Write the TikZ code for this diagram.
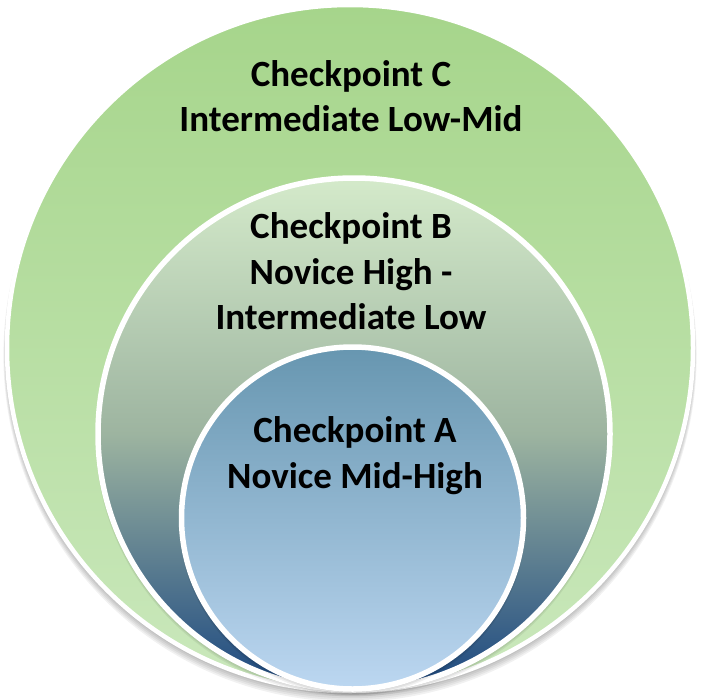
\documentclass[tikz,border=0pt]{standalone}
\usepackage{fontspec}
\setmainfont{Carlito}
\definecolor{outerTop}{HTML}{A6D58B}
\definecolor{outerBot}{HTML}{CAE8BC}
\definecolor{midTop}{HTML}{D4EACA}
\definecolor{midMid}{HTML}{9DB4A0}
\definecolor{midBot}{HTML}{1B4780}
\definecolor{innTop}{HTML}{6796B0}
\definecolor{innBot}{HTML}{BCD7F1}
\tikzset{
  ring/.style={draw=white, line width=5.5pt},
  lbl/.style={font=\bfseries\fontsize{37}{44}\selectfont, text=black, inner sep=0pt, anchor=base},
}
\begin{document}
\begin{tikzpicture}[x=1pt,y=-1pt]
\useasboundingbox (0,0) rectangle (701,699);
% shadow
\foreach \k in {1,...,6}{
  \fill[black, opacity=0.055] (350,{348+1.2*\k}) circle ({343+0.6*\k});
}
% outer circle
\shade[top color=outerTop, bottom color=outerBot] (350,348) circle (343);
\draw[ring, line width=4.5pt] (350,348) circle (343) coordinate (outer);
% middle circle shadow
\foreach \k in {1,...,4}{
  \fill[black, opacity=0.06] (354,{434+1.0*\k}) circle ({256+0.6*\k});
}
\shade[top color=midTop, bottom color=midBot, middle color=midMid] (354,434) circle (256);
\draw[ring] (354,434) circle (256) coordinate (middle);
% inner circle shadow
\foreach \k in {1,...,4}{
  \fill[black, opacity=0.06] (352.5,{518+1.0*\k}) circle ({171+0.6*\k});
}
\shade[top color=innTop, bottom color=innBot] (352.5,518) circle (171);
\draw[ring] (352.5,518) circle (171) coordinate (inner);
% labels
\node[lbl] (c1) at (351,86) {Checkpoint C};
\node[lbl] (c2) at (351,131.5) {Intermediate Low-Mid};
\node[lbl] (b1) at (351,238.5) {Checkpoint B};
\node[lbl] (b2) at (351,284) {Novice High -};
\node[lbl] (b3) at (351,329.5) {Intermediate Low};
\node[lbl] (a1) at (355,442.5) {Checkpoint A};
\node[lbl] (a2) at (355,488) {Novice Mid-High};
\end{tikzpicture}
\end{document}
